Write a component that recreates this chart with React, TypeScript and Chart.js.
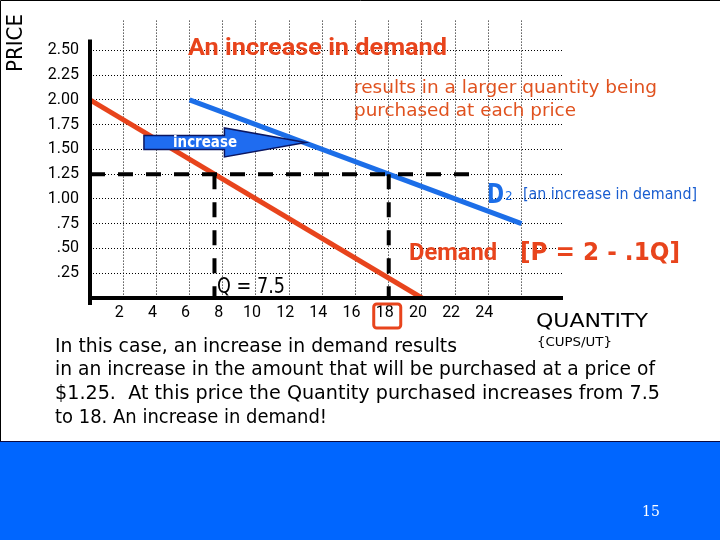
import React, { useEffect, useRef } from 'react';
import { Chart, registerables } from 'chart.js';
Chart.register(...registerables);

// ---- data ----
const demandQ = [0, 20];
const demandP = [2, 0];
const d2Q = [6, 26];
const d2P = [2, 0.75];
const priceLevel = 1.25;
const qBefore = 7.5;
const qAfter = 18;
const priceLineEndQ = 23;
const arrowQ = [3.25, 8.1, 13]; // tail, head base, tip
const arrowP = 1.57;
const xTickValues = [2, 4, 6, 8, 10, 12, 14, 16, 18, 20, 22, 24];
const xTickLabels = ['2', '4', '6', '8', '10', '12', '14', '16', '18', '20', '22', '24'];
const yTickValues = [0.25, 0.5, 0.75, 1, 1.25, 1.5, 1.75, 2, 2.25, 2.5];
const yTickLabels = ['.25', '.50', '.75', '1.00', '1.25', '1.50', '1.75', '2.00', '2.25', '2.50'];
const highlightedTick = 18;

const titleText = 'An increase in demand';
const noteLines = ['results in a larger quantity being', 'purchased at each price'];
const arrowText = 'increase';
const d2Label = '[an increase in demand]';
const demandLabel = ['Demand', '[P = 2 - .1Q]'];
const qLabel = 'Q = 7.5';
const xTitle = 'QUANTITY';
const xUnit = '{CUPS/UT}';
const yTitle = 'PRICE';
const paragraph = [
  'In this case, an increase in demand results',
  'in an increase in the amount that will be purchased at a price of',
  '$1.25.  At this price the Quantity purchased increases from 7.5',
  'to 18. An increase in demand!',
];
const slideNumber = '15';

const RED = '#E8441C';
const NOTE_RED = '#E0521F';
const BLUE = '#1C6EE8';
const FAMILY = '"DejaVu Sans", sans-serif';
const BOLD_FAMILY = 'Roboto, sans-serif';
const TICK_FAMILY = 'Roboto, sans-serif';

function drawText(
  ctx: CanvasRenderingContext2D,
  text: string,
  x: number,
  y: number,
  o: { size: number; color: string; weight?: string; width?: number; align?: CanvasTextAlign; baseline?: CanvasTextBaseline; family?: string }
) {
  const fam = o.family || FAMILY;
  const wt = o.weight || 'normal';
  ctx.save();
  ctx.font = `${wt} ${o.size}px ${fam}`;
  ctx.fillStyle = o.color;
  ctx.textAlign = o.align || 'left';
  ctx.textBaseline = o.baseline || 'alphabetic';
  let sx = 1;
  if (o.width) {
    const w = ctx.measureText(text).width;
    sx = Math.max(0.6, Math.min(1.5, o.width / w));
  }
  ctx.translate(x, y);
  ctx.scale(sx, 1);
  ctx.fillText(text, 0, 0);
  ctx.restore();
}

const slidePlugin = {
  id: 'slide',
  beforeDraw(chart: any) {
    const ctx = chart.ctx as CanvasRenderingContext2D;
    ctx.save();
    ctx.fillStyle = '#ffffff';
    ctx.fillRect(0, 0, 720, 441);
    ctx.fillStyle = '#0066FF';
    ctx.fillRect(0, 441, 720, 99);
    ctx.strokeStyle = '#000';
    ctx.lineWidth = 1;
    ctx.beginPath();
    ctx.moveTo(0.5, 441);
    ctx.lineTo(0.5, 0.5);
    ctx.lineTo(720, 0.5);
    ctx.stroke();
    ctx.strokeStyle = '#0a0a40';
    ctx.beginPath();
    ctx.moveTo(0, 441.5);
    ctx.lineTo(720, 441.5);
    ctx.stroke();
    ctx.restore();
  },
  afterDatasetsDraw(chart: any) {
    const ctx = chart.ctx as CanvasRenderingContext2D;
    const xs = chart.scales.x;
    const ys = chart.scales.y;
    const X = (v: number) => xs.getPixelForValue(v);
    const Y = (v: number) => ys.getPixelForValue(v);
    ctx.save();
    // axes
    ctx.strokeStyle = '#000';
    ctx.lineWidth = 4;
    ctx.beginPath();
    ctx.moveTo(X(0), Y(2.61));
    ctx.lineTo(X(0), Y(0) + 7);
    ctx.moveTo(X(0) - 2, Y(0));
    ctx.lineTo(xs.right, Y(0));
    ctx.stroke();

    // arrow
    const ay = Y(arrowP);
    ctx.beginPath();
    ctx.moveTo(X(arrowQ[0]), ay - 7);
    ctx.lineTo(X(arrowQ[1]), ay - 7);
    ctx.lineTo(X(arrowQ[1]), ay - 14.5);
    ctx.lineTo(X(arrowQ[2]), ay);
    ctx.lineTo(X(arrowQ[1]), ay + 14.5);
    ctx.lineTo(X(arrowQ[1]), ay + 7);
    ctx.lineTo(X(arrowQ[0]), ay + 7);
    ctx.closePath();
    ctx.fillStyle = '#1F6CF0';
    ctx.fill();
    ctx.lineWidth = 1.5;
    ctx.strokeStyle = '#0b1660';
    ctx.stroke();
    drawText(ctx, arrowText, 205, ay + 1, { size: 15, weight: 'bold', color: '#fff', width: 64, align: 'center', baseline: 'middle' });

    // highlight box around tick
    const hx = X(highlightedTick) - 2;
    ctx.strokeStyle = RED;
    ctx.lineWidth = 3;
    ctx.beginPath();
    (ctx as any).roundRect(hx - 13, 304, 27, 24, 3);
    ctx.stroke();

    // texts
    drawText(ctx, titleText, 188, 55, { size: 24, weight: 'bold', color: RED, width: 259, family: BOLD_FAMILY });
    drawText(ctx, noteLines[0], 354, 93, { size: 17, color: NOTE_RED, width: 303 });
    drawText(ctx, noteLines[1], 354, 116, { size: 17, color: NOTE_RED, width: 222 });
    drawText(ctx, 'D', 487, 203, { size: 27, weight: 'bold', color: BLUE, width: 17 });
    drawText(ctx, '2', 505, 200, { size: 12, color: BLUE });
    drawText(ctx, d2Label, 523, 199, { size: 15, color: '#1A5ED0', width: 174 });
    drawText(ctx, demandLabel[0], 409, 260, { size: 24, weight: 'bold', color: RED, width: 88, family: BOLD_FAMILY });
    drawText(ctx, demandLabel[1], 520, 260, { size: 24, weight: 'bold', color: RED, width: 160 });
    drawText(ctx, qLabel, 217, 293, { size: 21, color: '#000', width: 68 });
    drawText(ctx, xTitle, 536, 327, { size: 20, color: '#000', width: 112 });
    drawText(ctx, xUnit, 537, 346, { size: 12, color: '#000', width: 75 });
    const baselines = [352, 375, 399, 423];
    const widths = [402, 600, 605, 272];
    paragraph.forEach((line, i) => drawText(ctx, line, 55, baselines[i], { size: 20, color: '#000', width: widths[i] }));
    drawText(ctx, slideNumber, 651, 516, { size: 14, color: '#fff', align: 'center', family: '"DejaVu Serif", serif' });

    ctx.translate(17, 43);
    ctx.rotate(-Math.PI / 2);
    drawText(ctx, yTitle, 0, 0, { size: 21, color: '#000', width: 58, align: 'center', baseline: 'middle' });
    ctx.restore();
  },
};

export default function App() {
  const ref = useRef<HTMLCanvasElement>(null);
  useEffect(() => {
    if (!ref.current) return;
    const pts = (qs: number[], ps: number[]) => qs.map((q, i) => ({ x: q, y: ps[i] }));
    const chart = new Chart(ref.current, {
      type: 'scatter',
      data: {
        datasets: [
          { data: pts([0, priceLineEndQ], [priceLevel, priceLevel]), showLine: true, borderColor: '#000', borderWidth: 4, borderDash: [15, 13], pointRadius: 0 },
          { data: pts([qBefore, qBefore], [priceLevel, 0]), showLine: true, borderColor: '#000', borderWidth: 4, borderDash: [15, 13], pointRadius: 0 },
          { data: pts([qAfter, qAfter], [priceLevel, 0]), showLine: true, borderColor: '#000', borderWidth: 4, borderDash: [15, 13], pointRadius: 0 },
          { data: pts(demandQ, demandP), showLine: true, borderColor: RED, borderWidth: 5, pointRadius: 0 },
          { data: pts(d2Q, d2P), showLine: true, borderColor: BLUE, borderWidth: 5, pointRadius: 0 },
        ],
      },
      options: {
        animation: false,
        responsive: false,
        events: [],
        layout: { padding: { left: 0, top: 5, right: 157, bottom: 0 } },
        plugins: { legend: { display: false }, tooltip: { enabled: false } },
        scales: {
          x: {
            type: 'linear',
            min: 0,
            max: 28.5,
            afterFit: (s: any) => { s.height = 242; },
            border: { display: false, dash: [1, 2] },
            grid: {
              drawTicks: false,
              lineWidth: 1,
              color: (c: any) => {
                const v = c.tick && c.tick.value;
                return v > 0 && v <= 28 && Math.abs(v % 2) < 1e-6 ? '#000' : 'rgba(0,0,0,0)';
              },
            },
            ticks: {
              stepSize: 2,
              padding: 5,
              labelOffset: -4,
              color: '#000',
              font: { family: TICK_FAMILY, size: 16 },
              maxRotation: 0,
              autoSkip: false,
              callback: (v: any) => {
                const i = xTickValues.findIndex((t) => Math.abs(t - v) < 1e-6);
                return i >= 0 ? xTickLabels[i] : '';
              },
            },
          },
          y: {
            type: 'linear',
            min: 0,
            max: 2.8,
            afterFit: (s: any) => { s.width = 90; },
            border: { display: false, dash: [1, 2] },
            grid: {
              drawTicks: false,
              lineWidth: 1,
              color: (c: any) => {
                const v = c.tick && c.tick.value;
                return v > 0 && v <= 2.76 && Math.abs(v * 4 - Math.round(v * 4)) < 1e-6 ? '#000' : 'rgba(0,0,0,0)';
              },
            },
            ticks: {
              stepSize: 0.25,
              padding: 11,
              color: '#000',
              font: { family: TICK_FAMILY, size: 16 },
              autoSkip: false,
              callback: (v: any) => {
                const i = yTickValues.findIndex((t) => Math.abs(t - v) < 1e-6);
                return i >= 0 ? yTickLabels[i] : '';
              },
            },
          },
        },
      },
      plugins: [slidePlugin],
    });
    return () => chart.destroy();
  }, []);
  return (
    <div style={{ position: 'fixed', left: 0, top: 0, width: 720, height: 540 }}>
      <canvas ref={ref} width={720} height={540} style={{ display: 'block' }} />
    </div>
  );
}
